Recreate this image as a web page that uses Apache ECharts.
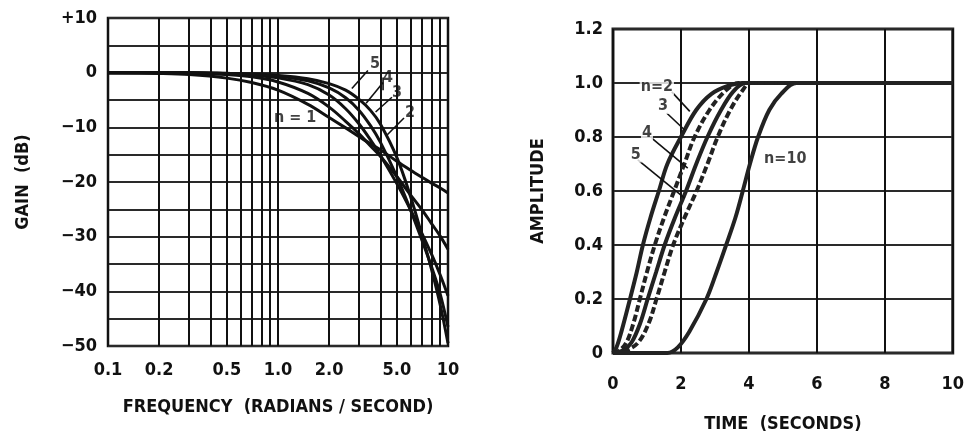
<!DOCTYPE html>
<html><head><meta charset="utf-8">
<script src="https://cdn.jsdelivr.net/npm/echarts@6/dist/echarts.min.js"></script>
<style>html,body{margin:0;padding:0;background:#fff}#c{width:967px;height:441px}</style>
</head><body><div id="c"></div>
<script>
// ---- Left chart: gain (dB) vs frequency (rad/s), log axis ----
const freqs  = [0.1, 0.2, 0.3, 0.5, 0.7, 1, 1.5, 2, 2.5, 3, 3.5, 4, 5, 6, 7, 8, 9, 10];
const gainN1 = [0, -0.15, -0.35, -1.0, -1.8, -3.2, -5.8, -8.2, -10.1, -11.7, -13.0, -14.1, -16.2, -17.8, -19.1, -20.2, -21.1, -22.0];
const gainN2 = [0, -0.02, -0.05, -0.37, -0.76, -1.7, -3.8, -6.3, -8.9, -11.2, -13.4, -15.3, -19.0, -22.3, -25.0, -27.6, -29.9, -32.3];
const gainN3 = [0, -0.01, -0.03, -0.22, -0.45, -0.95, -2.2, -4.1, -6.6, -9.4, -12.3, -15.1, -20.3, -25.0, -29.3, -33.2, -37.0, -40.8];
const gainN4 = [0, 0, -0.01, -0.16, -0.32, -0.65, -1.5, -2.8, -4.6, -6.9, -9.7, -12.7, -19.0, -25.0, -30.5, -35.5, -40.5, -46.5];
const gainN5 = [0, 0, 0, -0.12, -0.24, -0.5, -1.1, -2.0, -3.2, -4.9, -6.9, -9.4, -15.5, -22.5, -29.5, -36.0, -42.5, -49.5];
const freqGridValues = [0.1,0.2,0.3,0.4,0.5,0.6,0.7,0.8,0.9,1,2,3,4,5,6,7,8,9,10];
const freqLabelValues = [0.1, 0.2, 0.5, 1, 2, 5, 10];
const gainLabelValues = [-50, -40, -30, -20, -10, 0, 10];
// curve annotations (label text, anchor [freq, dB]) and leader lines
const leftLabels = [
  {text: '5', at: [3.72, 1.6]},
  {text: '4', at: [4.44, -1.0]},
  {text: '3', at: [5.01, -3.6]},
  {text: '2', at: [5.98, -7.4]},
  {text: 'n = 1', at: [1.26, -8.3]}
];
const leftLeaders = [
  [[3.38, 0.4], [2.72, -2.9]],
  [[4.15, -0.9], [4.15, -3.2]],
  [[4.15, -1.8], [3.30, -5.6]],
  [[4.68, -4.5], [3.75, -7.2]],
  [[5.51, -8.3], [4.38, -11.4]]
];

// ---- Right chart: step response amplitude vs time (s) ----
const timeN2  = [0, 0.1, 0.25, 0.5, 0.7, 0.88, 1.1, 1.35, 1.6, 2.0, 2.45, 2.9, 3.4, 3.8, 10];
const ampN2   = [0, 0.02, 0.08, 0.2, 0.3, 0.4, 0.5, 0.6, 0.7, 0.8, 0.9, 0.96, 0.99, 1.0, 1.0];
const timeN3  = [0, 0.2, 0.4, 0.6, 0.79, 1.0, 1.23, 1.5, 1.8, 2.1, 2.4, 2.84, 3.3, 3.7, 10];
const ampN3   = [0, 0.01, 0.04, 0.11, 0.2, 0.3, 0.4, 0.5, 0.6, 0.7, 0.8, 0.9, 0.97, 1.0, 1.0];
const timeN4  = [0, 0.3, 0.55, 0.8, 1.02, 1.27, 1.52, 1.82, 2.15, 2.45, 2.78, 3.18, 3.55, 3.9, 10];
const ampN4   = [0, 0.01, 0.04, 0.11, 0.2, 0.3, 0.4, 0.5, 0.6, 0.7, 0.8, 0.9, 0.97, 1.0, 1.0];
const timeN5  = [0, 0.4, 0.75, 1.05, 1.28, 1.52, 1.77, 2.1, 2.46, 2.78, 3.08, 3.45, 3.8, 4.05, 10];
const ampN5   = [0, 0.01, 0.04, 0.11, 0.2, 0.3, 0.4, 0.5, 0.6, 0.7, 0.8, 0.9, 0.97, 1.0, 1.0];
const timeN10 = [0, 1.6, 1.9, 2.25, 2.75, 3.05, 3.33, 3.6, 3.82, 4.03, 4.27, 4.6, 4.95, 5.4, 10];
const ampN10  = [0, 0, 0.02, 0.08, 0.2, 0.3, 0.4, 0.5, 0.6, 0.7, 0.8, 0.9, 0.96, 1.0, 1.0];
const rightLabels = [
  {text: 'n=2', at: [1.29, 0.985]},
  {text: '3', at: [1.47, 0.915]},
  {text: '4', at: [1.0, 0.815]},
  {text: '5', at: [0.67, 0.735]},
  {text: 'n=10', at: [5.07, 0.72]}
];
const rightLeaders = [
  [[1.73, 0.967], [2.26, 0.895]],
  [[1.58, 0.889], [2.11, 0.826]],
  [[1.14, 0.796], [2.2, 0.685]],
  [[0.73, 0.715], [2.11, 0.574]]
];

const FONT = "'Liberation Sans Narrow', 'DejaVu Sans Condensed', 'Liberation Sans', sans-serif";
const INK = '#111';
const pair = (xs, ys) => xs.map((x, i) => [x, ys[i]]);
const fmtFreq = v => { const r = Math.round(v * 10) / 10; return (r >= 1 && r < 10) ? r.toFixed(1) : String(r); };
const fmtGain = v => { const r = Math.round(v); return r > 0 ? '+' + r : (r < 0 ? '\u2212' + (-r) : '0'); };

const curve = (name, data, xi, dash, width, color) => ({
  name, type: 'line', xAxisIndex: xi, yAxisIndex: xi, data, smooth: 0.35,
  showSymbol: false, symbol: 'none', silent: true, z: 5,
  lineStyle: {color: color || INK, width: width || 3, type: dash ? [7, 3] : 'solid', cap: 'butt'}
});
const labelSeries = (labels, xi, bg) => ({
  type: 'scatter', xAxisIndex: xi, yAxisIndex: xi, symbolSize: 1, silent: true, z: 8,
  itemStyle: {color: 'rgba(0,0,0,0)'},
  data: labels.map(l => ({value: l.at, name: l.text})),
  label: {show: true, position: 'inside', formatter: p => p.name, color: INK,
          fontFamily: FONT, fontWeight: 'bold', fontSize: 16,
          backgroundColor: bg ? '#fff' : 'transparent', padding: [0, 1]}
});
const leaderSeries = (segs, xi) => segs.map(s => ({
  type: 'line', xAxisIndex: xi, yAxisIndex: xi, data: s, symbol: 'none', silent: true, z: 7,
  lineStyle: {color: INK, width: 1.6}
}));

const axisNameStyle = {color: INK, fontFamily: FONT, fontWeight: 'bold', fontSize: 18};
const tickStyle = {color: INK, fontFamily: FONT, fontWeight: 'bold', fontSize: 18};

const chart = echarts.init(document.getElementById('c'), null, {renderer: 'canvas'});
chart.setOption({
  backgroundColor: '#fff',
  animation: false,
  grid: [
    {left: 108, top: 18, width: 340, height: 328, show: true, borderColor: INK, borderWidth: 2.5, backgroundColor: 'transparent'},
    {left: 613, top: 29, width: 341, height: 324, show: true, borderColor: '#222', borderWidth: 3, backgroundColor: 'transparent'}
  ],
  xAxis: [
    {type: 'log', logBase: 10, gridIndex: 0, min: 0.1, max: 10,
     name: 'FREQUENCY  (RADIANS / SECOND)', nameLocation: 'middle', nameGap: 52, nameTextStyle: axisNameStyle,
     axisLine: {show: false}, axisTick: {show: false, customValues: freqGridValues},
     splitLine: {show: true, lineStyle: {color: INK, width: 2}},
     minorSplitLine: {show: false},
     axisLabel: {customValues: freqLabelValues, formatter: fmtFreq, margin: 15, ...tickStyle}},
    {type: 'value', gridIndex: 1, min: 0, max: 10, interval: 2,
     name: 'TIME  (SECONDS)', nameLocation: 'middle', nameGap: 62, nameTextStyle: axisNameStyle,
     axisLine: {show: false}, axisTick: {show: false},
     splitLine: {show: true, lineStyle: {color: INK, width: 2}},
     axisLabel: {margin: 22, ...tickStyle}}
  ],
  yAxis: [
    {type: 'value', gridIndex: 0, min: -50, max: 10, interval: 5,
     name: 'GAIN  (dB)', nameLocation: 'middle', nameGap: 76, nameRotate: 90, nameTextStyle: axisNameStyle,
     axisLine: {show: false}, axisTick: {show: false},
     splitLine: {show: true, lineStyle: {color: '#2a2a2a', width: 2}},
     axisLabel: {customValues: gainLabelValues, formatter: fmtGain, margin: 11, ...tickStyle}},
    {type: 'value', gridIndex: 1, min: 0, max: 1.2, interval: 0.2,
     name: 'AMPLITUDE', nameLocation: 'middle', nameGap: 66, nameRotate: 90, nameTextStyle: axisNameStyle,
     axisLine: {show: false}, axisTick: {show: false},
     splitLine: {show: true, lineStyle: {color: '#2a2a2a', width: 2}},
     axisLabel: {margin: 10, formatter: v => v === 0 ? '0' : v.toFixed(1), ...tickStyle}}
  ],
  series: [
    curve('n=1', pair(freqs, gainN1), 0),
    curve('n=2', pair(freqs, gainN2), 0),
    curve('n=3', pair(freqs, gainN3), 0),
    curve('n=4', pair(freqs, gainN4), 0),
    curve('n=5', pair(freqs, gainN5), 0),
    labelSeries(leftLabels, 0, false),
    ...leaderSeries(leftLeaders, 0),
    curve('n=2', pair(timeN2, ampN2), 1, false, 4, '#222'),
    curve('n=3', pair(timeN3, ampN3), 1, true, 4, '#222'),
    curve('n=4', pair(timeN4, ampN4), 1, false, 4, '#222'),
    curve('n=5', pair(timeN5, ampN5), 1, true, 4, '#222'),
    curve('n=10', pair(timeN10, ampN10), 1, false, 4, '#222'),
    labelSeries(rightLabels, 1, true),
    ...leaderSeries(rightLeaders, 1)
  ]
});
</script></body></html>
